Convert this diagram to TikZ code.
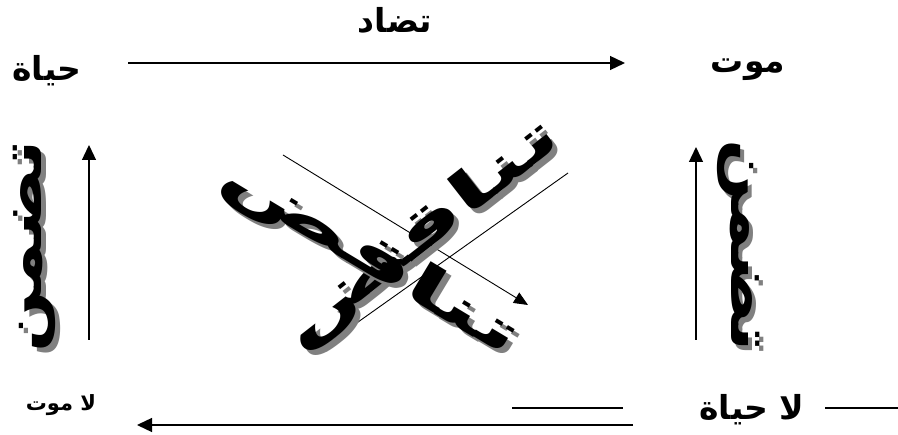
\documentclass[tikz,border=0pt]{standalone}
\usepackage{fontspec}
\usetikzlibrary{arrows.meta}
\TeXXeTstate=1
\newfontfamily\arabicfont[Script=Arabic]{DejaVu Sans}
\tikzset{
  lbl/.style={font=\arabicfont\bfseries\fontsize{33}{36}\selectfont, inner sep=0pt},
  smalllbl/.style={font=\arabicfont\bfseries\fontsize{21}{24}\selectfont, inner sep=0pt},
  arr/.style={line width=1.3pt, -{Triangle[length=15pt,width=14pt]}},
  thinarr/.style={line width=0.9pt, -{Triangle[length=14pt,width=12pt]}},
  plainline/.style={line width=1.3pt},
  big/.style={font=\arabicfont\bfseries\fontsize{56}{56}\selectfont, inner sep=0pt},
  vbig/.style={font=\arabicfont\bfseries\fontsize{58}{58}\selectfont, inner sep=0pt},
  shade/.style={text=black!50},
}
\begin{document}
\begin{tikzpicture}[x=1pt,y=-1pt]
\useasboundingbox[fill=white] (0,0) rectangle (898,435);
% labels
\node[lbl] (tadad) at (395,20) {\beginR تضاد\endR};
\node[lbl] (hayat) at (47,71) {\beginR حياة\endR};
\node[lbl] (mawt) at (748,70) {\beginR موت\endR};
\node[smalllbl] (lamawt) at (61,405) {\beginR لا موت\endR};
\node[lbl] (lahayat) at (752,410) {\beginR لا حياة\endR};
% top arrow
\coordinate (t1) at (128,63);
\coordinate (t2) at (625,63);
\draw[arr] (t1) -- (t2);
% bottom arrow and lines
\coordinate (b1) at (633,425);
\coordinate (b2) at (137,425);
\draw[arr] (b1) -- (b2);
\coordinate (s1) at (512,408);
\coordinate (s2) at (623,408);
\draw[plainline] (s1) -- (s2);
\coordinate (r1) at (825,408);
\coordinate (r2) at (898,408);
\draw[plainline] (r1) -- (r2);
% vertical arrows
\coordinate (l1) at (89,340);
\coordinate (l2) at (89,145);
\draw[arr] (l1) -- (l2);
\coordinate (v1) at (696,340);
\coordinate (v2) at (696,147);
\draw[arr] (v1) -- (v2);
% vertical texts
\node[vbig, shade, rotate=90] (lts) at (39,251) {\scalebox{1.25}[1]{\beginR تضمن\endR}};
\node[vbig, rotate=90] (lt) at (34,246) {\scalebox{1.25}[1]{\beginR تضمن\endR}};
\node[vbig, shade, rotate=-90] (rts) at (743,251) {\scalebox{1.25}[1]{\beginR تضمن\endR}};
\node[vbig, rotate=-90] (rt) at (739,246) {\scalebox{1.25}[1]{\beginR تضمن\endR}};
% cross lines
\coordinate (c1) at (283,155);
\coordinate (c2) at (528,305);
\draw[thinarr] (c1) -- (c2);
\coordinate (d1) at (568,173);
\coordinate (d2) at (313,354);
\draw[thinarr] (d1) -- (d2);
% central texts
\node[big, shade, rotate=38] (tas) at (427,240) {\scalebox{1.9}[1]{\beginR تناقض\endR}};
\node[big, rotate=38] (ta) at (422,235) {\scalebox{1.9}[1]{\beginR تناقض\endR}};
\node[big, shade, rotate=-31] (tbs) at (375,263) {\scalebox{1.9}[1]{\beginR تناقض\endR}};
\node[big, rotate=-31] (tb) at (370,258) {\scalebox{1.9}[1]{\beginR تناقض\endR}};
\end{tikzpicture}
\end{document}
